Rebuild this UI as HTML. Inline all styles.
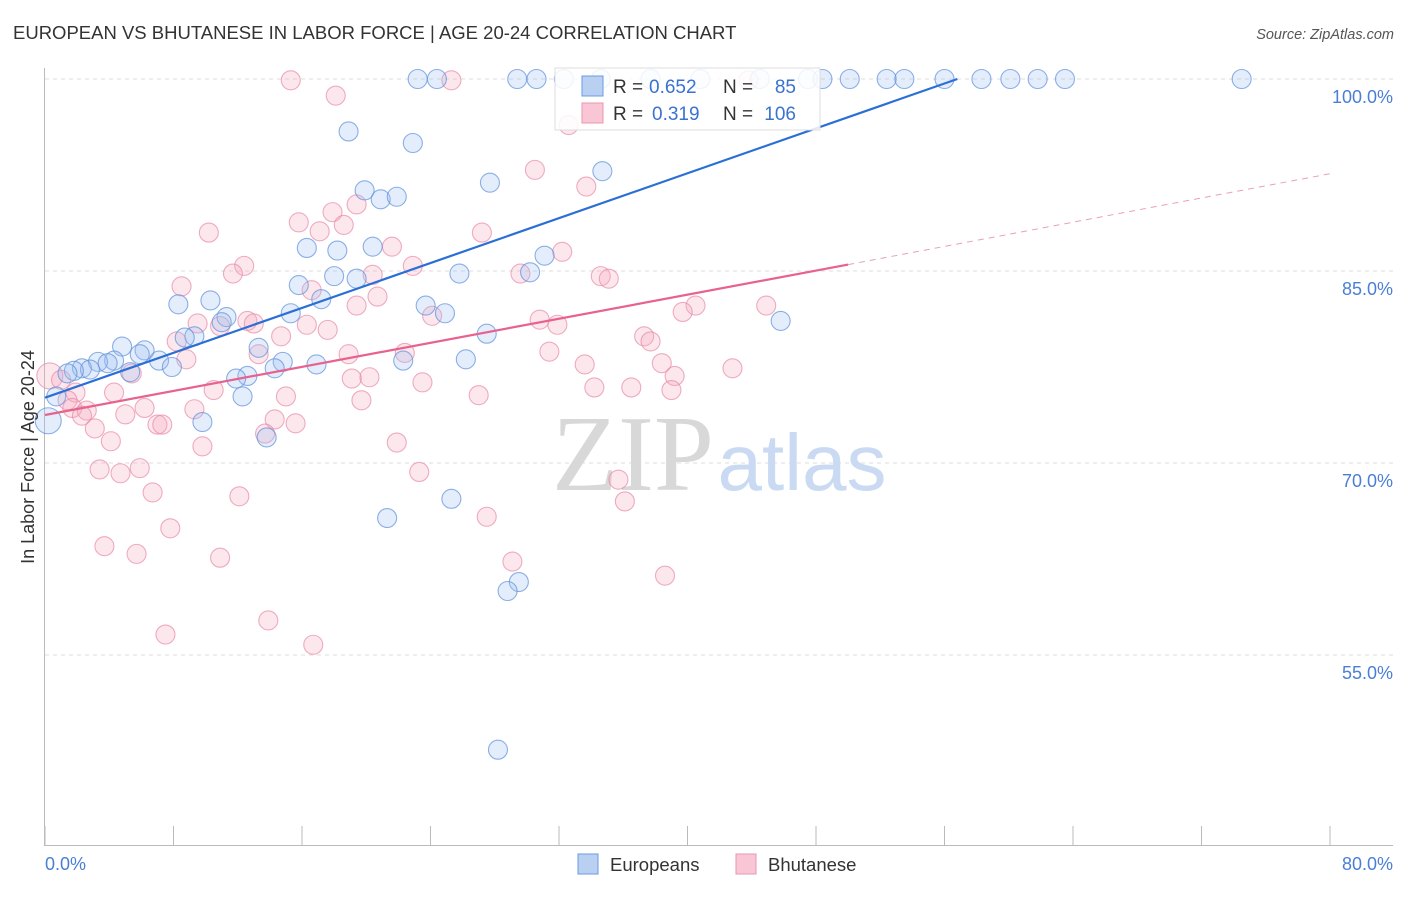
<!DOCTYPE html>
<html><head><meta charset="utf-8"><style>
body{margin:0;background:#fff;width:1406px;height:892px;overflow:hidden;font-family:"Liberation Sans",sans-serif}
</style></head><body>
<svg id="chart" width="1406" height="892" xmlns="http://www.w3.org/2000/svg" font-family="Liberation Sans, sans-serif">
<text x="13" y="39" font-size="18.5" fill="#333">EUROPEAN VS BHUTANESE IN LABOR FORCE | AGE 20-24 CORRELATION CHART</text>
<text x="1394" y="39" font-size="14.5" fill="#555" text-anchor="end" font-style="italic">Source: ZipAtlas.com</text>
<g id="grid"></g>
<g>
<text x="633" y="490" font-family="Liberation Serif, serif" font-size="108" fill="#d8d8d8" text-anchor="middle">ZIP</text>
<text x="802" y="490" font-size="80" fill="#c9daf2" text-anchor="middle">atlas</text>
</g>
<g id="axes"></g>
<g id="pinkPts"></g>
<g id="bluePts"></g>
<g id="lines"></g>
<g>
<rect x="555" y="68" width="265" height="62" fill="#fff" fill-opacity="0.85" stroke="#ddd"/>
<rect x="582" y="76" width="21" height="20" fill="#b9d0f3" stroke="#6a9be0"/>
<rect x="582" y="103" width="21" height="20" fill="#f9c6d5" stroke="#ea96b0"/>
<text x="613" y="93" font-size="19" fill="#333">R =</text>
<text x="649" y="93" font-size="19" fill="#3a72d0">0.652</text>
<text x="723" y="93" font-size="19" fill="#333">N =</text>
<text x="796" y="93" font-size="19" fill="#3a72d0" text-anchor="end">85</text>
<text x="613" y="120" font-size="19" fill="#333">R =</text>
<text x="652" y="120" font-size="19" fill="#3a72d0">0.319</text>
<text x="723" y="120" font-size="19" fill="#333">N =</text>
<text x="796" y="120" font-size="19" fill="#3a72d0" text-anchor="end">106</text>
</g>
<text transform="translate(34,457) rotate(-90)" font-size="18" fill="#333" text-anchor="middle">In Labor Force | Age 20-24</text>
<g>
<rect x="578" y="854" width="20" height="20" fill="#b9d0f3" stroke="#6a9be0"/>
<text x="610" y="871" font-size="18.5" fill="#333">Europeans</text>
<rect x="736" y="854" width="20" height="20" fill="#f9c6d5" stroke="#ea96b0"/>
<text x="768" y="871" font-size="18.5" fill="#333">Bhutanese</text>
</g>
</svg>
<script>
const NS="http://www.w3.org/2000/svg";
const xTicks=[0,8,16,24,32,40,48,56,64,72,80];
const yTicks=[100,85,70,55];
const yTickLabels=["100.0%","85.0%","70.0%","55.0%"];
const xTickLabels=["0.0%","80.0%"];
const euroX=[23.2,24.4,29.4,30.6,32.3,34.6,37.7,40.8,44.5,47.5,48.4,50.1,52.4,53.5,56.0,58.3,60.1,61.8,63.5,74.5,
18.9,22.9,34.7,27.7,19.9,20.9,21.9,16.3,18.2,20.4,31.1,30.2,25.8,18.0,19.4,15.8,17.2,8.3,10.3,23.7,24.9,15.3,11.3,11.0,45.8,27.5,9.3,8.7,4.8,6.2,13.3,5.9,7.1,4.3,3.3,3.9,7.9,14.8,16.9,26.2,22.3,14.3,2.3,2.8,1.8,1.4,5.3,12.6,11.9,12.3,0.7,0.2,9.8,13.8,25.3,21.3,29.5,28.8,28.2];
const euroY=[100,100,100,100,100,100,100,100,100,100,100,100,100,100,100,100,100,100,100,100,
95.9,95.0,92.8,91.9,91.3,90.6,90.8,86.8,86.6,86.9,86.2,84.9,84.8,84.6,84.4,83.9,82.8,82.4,82.7,82.3,81.7,81.7,81.4,81.0,81.1,80.1,79.9,79.8,79.1,78.8,79.0,78.5,78.0,78.0,77.9,77.8,77.5,77.9,77.7,78.1,78.0,77.4,77.4,77.3,77.2,77.0,77.1,76.8,76.6,75.2,75.2,73.3,73.2,72.0,67.2,65.7,60.7,60.0,47.6];
const bhuX=[15.3,25.3,43.8,18.1,32.6,30.5,33.7,27.2,19.4,15.8,17.9,18.6,17.1,10.2,21.6,32.2,12.4,11.7,22.9,20.4,29.6,34.6,35.1,8.5,16.6,20.7,19.4,40.5,39.7,44.9,24.1,30.8,31.9,9.5,12.6,13.0,10.9,16.3,17.6,37.3,37.7,8.2,14.7,13.3,18.9,22.4,31.4,8.8,33.6,38.4,42.8,39.2,5.4,19.1,20.2,23.5,34.2,36.5,39.0,10.5,4.3,27.0,19.7,15.0,0.3,1.0,1.9,1.4,1.7,2.6,2.3,9.3,6.2,5.0,7.0,7.3,3.1,4.1,9.8,15.6,14.3,13.7,21.9,23.3,3.4,4.7,5.9,6.7,12.1,35.7,36.1,27.5,7.8,3.7,5.7,10.9,29.1,38.6,7.5,13.9,16.7];
const bhuY=[99.9,99.9,99.9,98.7,96.4,92.9,91.6,88.0,90.2,88.8,89.6,88.6,88.1,88.0,86.9,86.5,85.4,84.8,85.4,84.7,84.8,84.6,84.4,83.8,83.5,83.0,82.3,82.3,81.8,82.3,81.5,81.2,80.8,80.9,81.1,80.9,80.7,80.8,80.4,79.9,79.5,79.5,79.9,78.5,78.5,78.6,78.7,78.1,77.7,77.8,77.4,76.8,77.0,76.6,76.7,76.3,75.9,75.9,75.7,75.7,75.5,75.3,74.9,75.2,76.8,76.5,75.5,74.9,74.3,74.1,73.7,74.2,74.3,73.8,73.0,73.0,72.7,71.7,71.3,73.1,73.4,72.3,71.6,69.3,69.5,69.2,69.6,67.7,67.4,68.7,67.0,65.8,64.9,63.5,62.9,62.6,62.3,61.2,56.6,57.7,55.8];
const euroTrend=[0,75.1,56.8,100];
const bhuTrend=[0,73.75,50,85.5,80,92.6];
const X=v=>45+v*(1285/80);
const Y=v=>79+(100-v)*12.8;
function el(tag,attrs,parent){const e=document.createElementNS(NS,tag);for(const k in attrs)e.setAttribute(k,attrs[k]);parent.appendChild(e);return e;}
const grid=document.getElementById('grid'),axes=document.getElementById('axes');
yTicks.forEach((t,i)=>{
  const g=el('line',{x1:45,x2:1393,y1:Y(t),y2:Y(t),stroke:'#ddd','stroke-dasharray':'4,4'},grid);
  
  
  const tx=el('text',{x:1393,y:Y(t)+24,'font-size':18,fill:'#4a7fd4','text-anchor':'end'},axes);
  tx.textContent=yTickLabels[i];
  
  
});
const ya=el('line',{x1:44.5,x2:44.5,y1:68,y2:845,stroke:'#bbb'},axes);


const xa=el('line',{x1:44,x2:1393,y1:845.5,y2:845.5,stroke:'#bbb'},axes);


xTicks.forEach(t=>{
  const tk=el('line',{x1:X(t),x2:X(t),y1:826,y2:845,stroke:'#bbb'},axes);
  
  
});
const xl0=el('text',{x:45,y:870,'font-size':18,fill:'#4a7fd4'},axes);xl0.textContent=xTickLabels[0];


const xl1=el('text',{x:1393,y:870,'font-size':18,fill:'#4a7fd4','text-anchor':'end'},axes);xl1.textContent=xTickLabels[1];


function pts(xs,ys,g,fill,stroke,name){
  xs.forEach((x,i)=>{
    const big=(x<0.5);
    const c=el('circle',{cx:X(x),cy:Y(ys[i]),r:big?13:9.5,fill:fill,'fill-opacity':0.28,stroke:stroke,'stroke-width':1.1,'stroke-opacity':0.7},g);
    
    
  });
}
pts(bhuX,bhuY,document.getElementById('pinkPts'),'#f6a9c0','#e88aa8','bhutanese-point');
pts(euroX,euroY,document.getElementById('bluePts'),'#9dbff0','#5d90dc','europeans-point');
const L=document.getElementById('lines');
const l1=el('line',{x1:X(euroTrend[0]),y1:Y(euroTrend[1]),x2:X(euroTrend[2]),y2:Y(euroTrend[3]),stroke:'#2a6fd6','stroke-width':2.2},L);


const l2=el('line',{x1:X(bhuTrend[0]),y1:Y(bhuTrend[1]),x2:X(bhuTrend[2]),y2:Y(bhuTrend[3]),stroke:'#e8628f','stroke-width':2.2},L);


const l3=el('line',{x1:X(bhuTrend[2]),y1:Y(bhuTrend[3]),x2:X(bhuTrend[4]),y2:Y(bhuTrend[5]),stroke:'#e8a0b8','stroke-width':1,'stroke-dasharray':'6,5'},L);


</script>
</body></html>
